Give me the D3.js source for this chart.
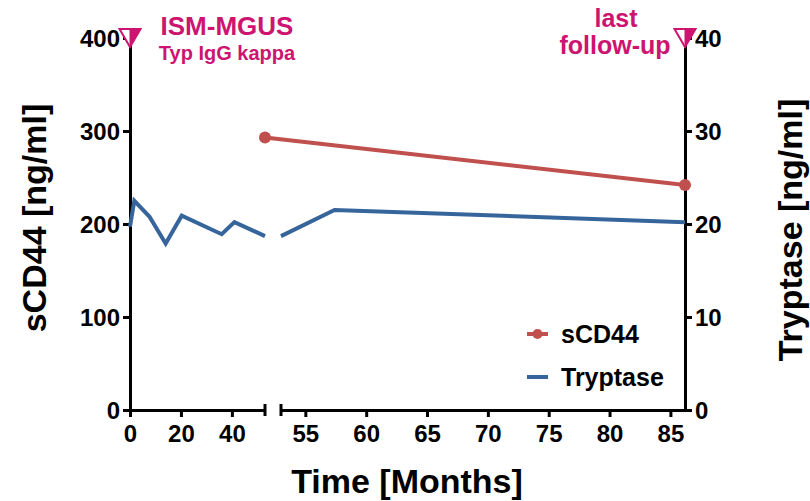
<!DOCTYPE html>
<html>
<head>
<meta charset="utf-8">
<script src="https://cdn.jsdelivr.net/npm/d3@7"></script>
<style>
  html, body { margin: 0; padding: 0; background: #fff; }
  svg { display: block; font-family: "Liberation Sans", Arial, Helvetica, sans-serif; font-weight: bold; }
</style>
</head>
<body>
<svg id="chart" width="810" height="501"></svg>
<script>
// Time axis is broken into two segments
const timeTicksEarly = [0, 20, 40];
const timeTicksLate = [55, 60, 65, 70, 75, 80, 85];
const sCD44Ticks = [0, 100, 200, 300, 400];
const tryptaseTicks = [0, 10, 20, 30, 40];

// sCD44 serum level [ng/ml]
const sCD44Months = [53, 86.2];
const sCD44Values = [293, 242];

// Serum tryptase [ng/ml]
const tryptaseMonths = [0, 1.7, 7.6, 14, 20.3, 36, 41, 53, 57.4, 86.2];
const tryptaseValues = [19.7, 22.5, 20.8, 17.9, 20.9, 18.9, 20.2, 18.7, 21.5, 20.2];

// Clinical events marked on the time axis
const eventMonths = [0, 86.2];

const COLORS = { sCD44: "#c0504d", tryptase: "#36659c", event: "#cc1470", axis: "#000" };

const svg = d3.select("#chart");

const xEarly = d3.scaleLinear().domain([0, 53]).range([130, 265]);
const xLate = d3.scaleLinear().domain([53, 86.2]).range([281, 685]);
const yLeft = d3.scaleLinear().domain([0, 400]).range([410, 38]);
const yRight = d3.scaleLinear().domain([0, 40]).range([410, 38]);

const xOf = m => (m <= 53 ? xEarly(m) : xLate(m));

// clip regions for the two time segments
const defs = svg.append("defs");
defs.append("clipPath").attr("id", "clipEarly").append("rect")
  .attr("x", 120).attr("y", 0).attr("width", 149).attr("height", 501);
defs.append("clipPath").attr("id", "clipLate").append("rect")
  .attr("x", 277).attr("y", 0).attr("width", 420).attr("height", 501);

function styleAxis(g) {
  g.select(".domain").attr("stroke", COLORS.axis).attr("stroke-width", 3);
  g.selectAll(".tick line").attr("stroke", COLORS.axis).attr("stroke-width", 3);
  g.selectAll(".tick text")
    .attr("fill", COLORS.axis)
    .style("font-size", "24px")
    .style("font-weight", "bold");
}

// Left axis (sCD44)
const gLeft = svg.append("g").attr("transform", "translate(130,0)")
  .call(d3.axisLeft(yLeft).tickValues(sCD44Ticks).tickSize(7).tickSizeOuter(0).tickPadding(3));
styleAxis(gLeft);
gLeft.selectAll(".tick text").attr("dy", "0.36em");

// Right axis (Tryptase)
const gRight = svg.append("g").attr("transform", "translate(685,0)")
  .call(d3.axisRight(yRight).tickValues(tryptaseTicks).tickSize(7).tickSizeOuter(0).tickPadding(3));
styleAxis(gRight);
gRight.selectAll(".tick text").attr("dy", "0.36em");

// Bottom axis, two segments
const gEarly = svg.append("g").attr("transform", "translate(0,410)")
  .call(d3.axisBottom(xEarly).tickValues(timeTicksEarly).tickSize(7).tickSizeOuter(0).tickPadding(8));
styleAxis(gEarly);
const gLate = svg.append("g").attr("transform", "translate(0,410)")
  .call(d3.axisBottom(xLate).tickValues(timeTicksLate).tickSize(7).tickSizeOuter(0).tickPadding(8));
styleAxis(gLate);

// break caps at the segment ends
[xEarly.range()[1], xLate.range()[0]].forEach(x => {
  svg.append("line").attr("x1", x).attr("x2", x).attr("y1", 404).attr("y2", 416)
    .attr("stroke", COLORS.axis).attr("stroke-width", 3);
});

// Tryptase line, drawn in each segment
const tryptase = tryptaseMonths.map((m, i) => ({ m, v: tryptaseValues[i] }));
const early = tryptase.filter(d => d.m <= 53);
const late = tryptase.filter(d => d.m >= 53);

svg.append("path").datum(early)
  .attr("clip-path", "url(#clipEarly)")
  .attr("fill", "none").attr("stroke", COLORS.tryptase).attr("stroke-width", 4)
  .attr("stroke-linejoin", "miter")
  .attr("d", d3.line().x(d => xEarly(d.m)).y(d => yRight(d.v)));
svg.append("path").datum(late)
  .attr("clip-path", "url(#clipLate)")
  .attr("fill", "none").attr("stroke", COLORS.tryptase).attr("stroke-width", 4)
  .attr("stroke-linejoin", "miter")
  .attr("d", d3.line().x(d => xLate(d.m)).y(d => yRight(d.v)));

// sCD44 line with markers
const sCD44 = sCD44Months.map((m, i) => ({ m, v: sCD44Values[i] }));
svg.append("path").datum(sCD44)
  .attr("fill", "none").attr("stroke", COLORS.sCD44).attr("stroke-width", 4)
  .attr("d", d3.line().x(d => xOf(d.m)).y(d => yLeft(d.v)));
svg.selectAll("circle.scd44").data(sCD44).join("circle")
  .attr("class", "scd44")
  .attr("cx", d => xOf(d.m)).attr("cy", d => yLeft(d.v)).attr("r", 6)
  .attr("fill", COLORS.sCD44);

// Event markers: half-filled downward triangles at the top of the plot
const triW = 21, triH = 18;
eventMonths.forEach(m => {
  const cx = xOf(m), cy = yLeft(400);
  const top = cy - triH / 2, tip = cy + triH / 2;
  svg.append("path")
    .attr("d", `M${cx - triW / 2},${top}L${cx + triW / 2},${top}L${cx},${tip}Z`)
    .attr("fill", "#fff").attr("stroke", COLORS.event).attr("stroke-width", 2);
  svg.append("path")
    .attr("d", `M${cx},${top}L${cx + triW / 2},${top}L${cx},${tip}Z`)
    .attr("fill", COLORS.event).attr("stroke", COLORS.event).attr("stroke-width", 1);
});

// Event annotations
const ann = svg.append("g").attr("fill", COLORS.event).attr("text-anchor", "middle");
ann.append("text").attr("x", 227).attr("y", 35).style("font-size", "26px").text("ISM-MGUS");
ann.append("text").attr("x", 227).attr("y", 60).style("font-size", "20px").text("Typ IgG kappa");
ann.append("text").attr("x", 616).attr("y", 27).style("font-size", "25px").text("last");
ann.append("text").attr("x", 615).attr("y", 54).style("font-size", "25px").text("follow-up");

// Axis titles
svg.append("text").attr("transform", "translate(46,218) rotate(-90)")
  .attr("text-anchor", "middle").style("font-size", "34px").text("sCD44 [ng/ml]");
svg.append("text").attr("transform", "translate(802,230) rotate(-90)")
  .attr("text-anchor", "middle").style("font-size", "34px").text("Tryptase [ng/ml]");
svg.append("text").attr("x", 407).attr("y", 493)
  .attr("text-anchor", "middle").style("font-size", "34px").text("Time [Months]");

// Legend
const legend = svg.append("g");
const legendItems = [
  { name: "sCD44", color: COLORS.sCD44, dot: true, y: 334 },
  { name: "Tryptase", color: COLORS.tryptase, dot: false, y: 377 }
];
legendItems.forEach(it => {
  legend.append("line").attr("x1", 527).attr("x2", 548).attr("y1", it.y).attr("y2", it.y)
    .attr("stroke", it.color).attr("stroke-width", 4);
  if (it.dot) legend.append("circle").attr("cx", 537.5).attr("cy", it.y).attr("r", 5).attr("fill", it.color);
  legend.append("text").attr("x", 561).attr("y", it.y).attr("dy", "0.36em")
    .style("font-size", "25px").text(it.name);
});
</script>
</body>
</html>
